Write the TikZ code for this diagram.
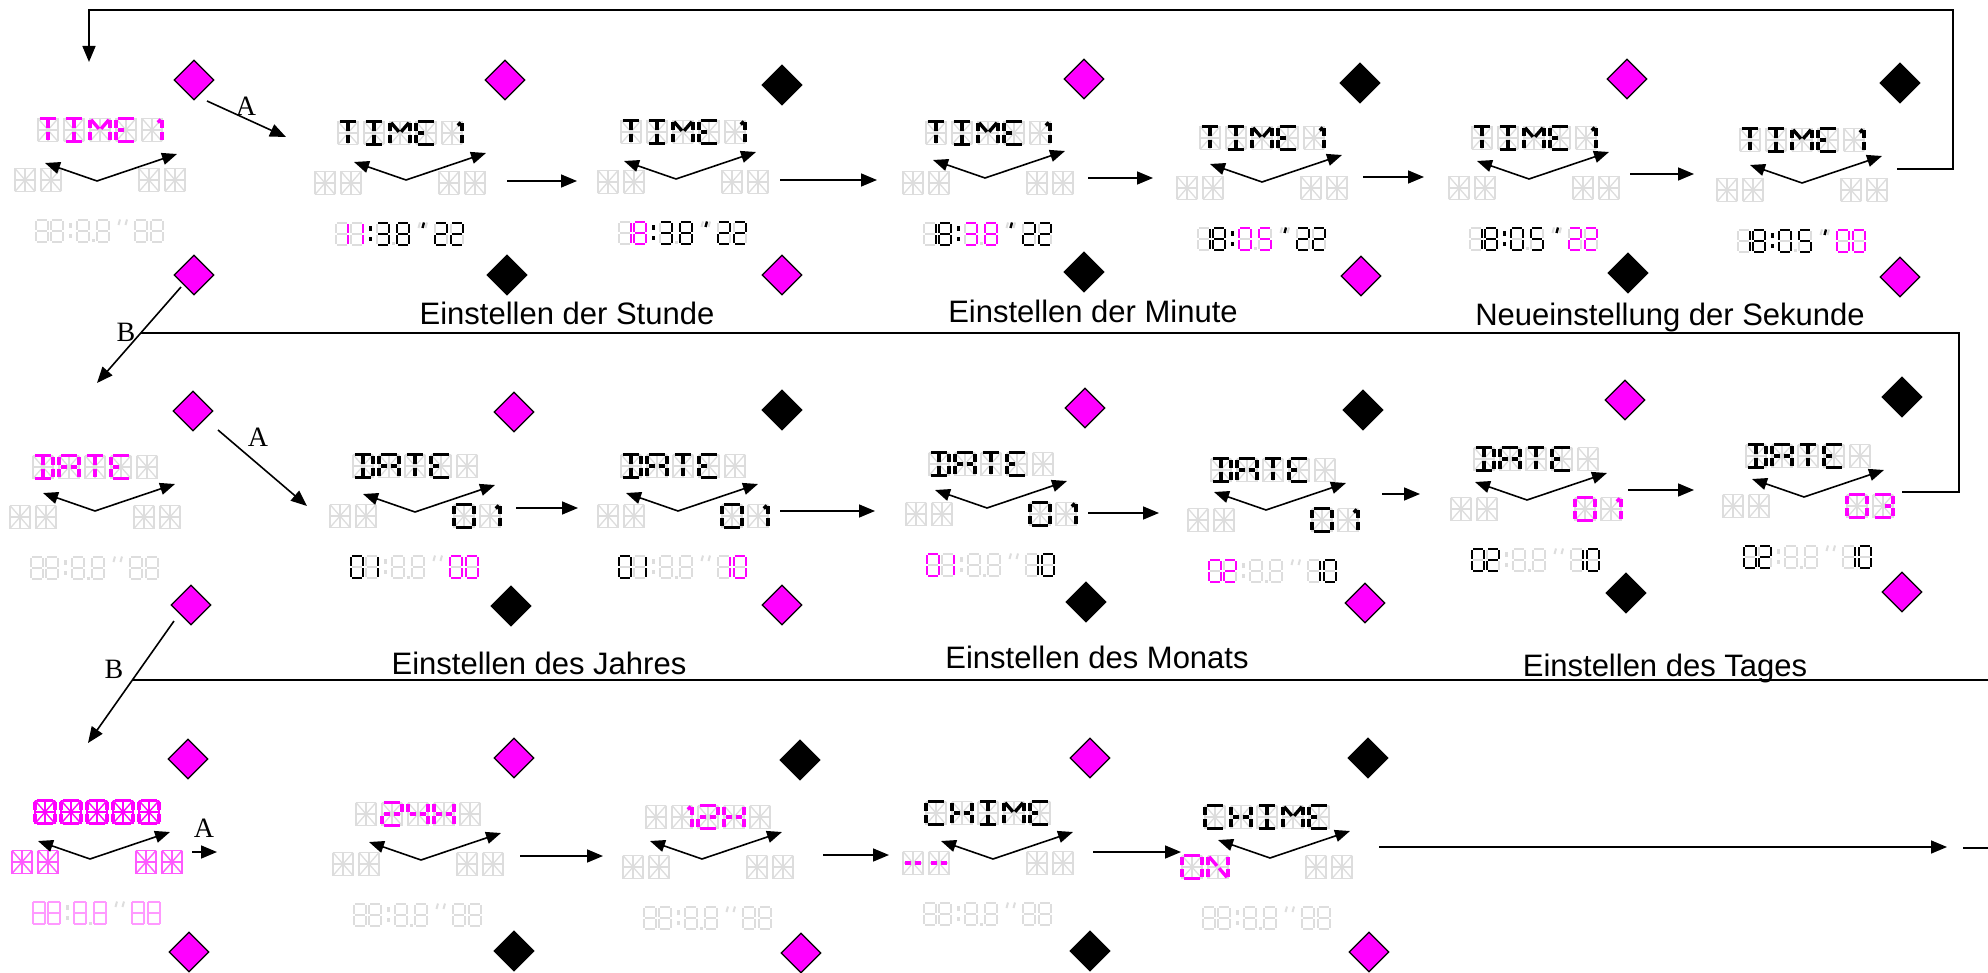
\documentclass[tikz,border=0pt]{standalone}
\usepackage{fontspec}
\setmainfont{Liberation Sans}
\newfontfamily\serifA{Liberation Serif}
\usetikzlibrary{arrows.meta,shapes.geometric}
\definecolor{mag}{HTML}{FF00FF}
\definecolor{ghostc}{HTML}{DDDDDD}
\tikzset{
 ghost/.style={draw=ghostc, line width=1.3pt},
 lit/.style={line width=3.4pt, shorten <=1.6pt, shorten >=1.6pt},
 thinlit/.style={line width=1.3pt},
 dlit/.style={line width=2.8pt, shorten <=1.1pt, shorten >=1.1pt},
 dghost/.style={draw=ghostc, line width=2pt, shorten <=1.2pt, shorten >=1.2pt},
 conn/.style={line width=1.6pt, -{Triangle[length=16pt,width=13pt]}},
 varrow/.style={line width=1.6pt, -{Triangle[length=15pt,width=12pt]}},
 pline/.style={line width=1.6pt},
 dm/.style={diamond, draw=black, line width=1.2pt, minimum width=40pt, minimum height=40pt, inner sep=0pt},
 captxt/.style={font=\fontsize{31}{36}\selectfont, inner sep=0pt, anchor=base},
 lbl/.style={font=\serifA\fontsize{28}{32}\selectfont, inner sep=0pt},
}
% 14-segment cell
\newcommand\defseg[2]{\expandafter\def\csname sg#1\endcsname{#2}}
\defseg{t}{(-10,-11.5)--(10,-11.5)}
\defseg{bo}{(-10,11.5)--(10,11.5)}
\defseg{ul}{(-10,-11.5)--(-10,0)}
\defseg{ll}{(-10,0)--(-10,11.5)}
\defseg{ur}{(10,-11.5)--(10,0)}
\defseg{lr}{(10,0)--(10,11.5)}
\defseg{ml}{(-10,0)--(0,0)}
\defseg{mr}{(0,0)--(10,0)}
\defseg{cu}{(0,-11.5)--(0,0)}
\defseg{cl}{(0,0)--(0,11.5)}
\defseg{dul}{(0,0)--(-10,-11.5)}
\defseg{dur}{(0,0)--(10,-11.5)}
\defseg{dll}{(0,0)--(-10,11.5)}
\defseg{dlr}{(0,0)--(10,11.5)}
\defseg{fl}{(4.5,-6.5)--(10,-11.5)}
% 7-segment digit
\newcommand\defdseg[2]{\expandafter\def\csname sd#1\endcsname{#2}}
\defdseg{a}{(-6,-11)--(6,-11)}
\defdseg{b}{(6,-11)--(6,0)}
\defdseg{c}{(6,0)--(6,11)}
\defdseg{d}{(-6,11)--(6,11)}
\defdseg{e}{(-6,0)--(-6,11)}
\defdseg{f}{(-6,-11)--(-6,0)}
\defdseg{g}{(-6,0)--(6,0)}
% letters
\def\lAll{t,bo,ul,ll,ur,lr,ml,mr,cu,cl,dul,dur,dll,dlr}
\def\lFrame{t,bo,ul,ll,ur,lr}
\def\lT{t,cu,cl}
\def\lI{t,bo,cu,cl}
\def\lM{ul,ll,ur,lr,dul,dur}
\def\lE{t,bo,ul,ll,ml}
\def\lOne{ur,lr,fl}
\def\lD{t,bo,ur,lr,cu,cl}
\def\lA{t,ul,ll,ur,lr,ml,mr}
\def\lC{t,bo,ul,ll}
\def\lH{ul,ll,ur,lr,ml,mr}
\def\lO{t,bo,ul,ll,ur,lr}
\def\lN{ul,ll,ur,lr,dul,dlr}
\def\lTwo{t,ur,ml,mr,ll,bo}
\def\lFour{ul,ur,lr,ml,mr}
\def\lThree{t,ur,lr,bo,mr}
\def\lDash{ml,mr}
% digits
\def\dAll{a,b,c,d,e,f,g}
\def\dZ{a,b,c,d,e,f}
\def\dI{b,c}
\def\dII{a,b,g,e,d}
\def\dIII{a,b,g,c,d}
\def\dV{a,f,g,c,d}
\def\dVIII{a,b,c,d,e,f,g}
% drawing macros
\newcommand\gcell[2]{\begin{scope}[shift={(#1)},shift={(#2,0)}]
  \foreach \s in \lAll {\expandafter\let\expandafter\segp\csname sg\s\endcsname \draw[ghost] \segp;}
 \end{scope}}
\newcommand\lc[4]{\begin{scope}[shift={(#1)},shift={(#2,0)}]
  \foreach \s in #4 {\expandafter\let\expandafter\segp\csname sg\s\endcsname \draw[lit,draw=#3] \segp;}
 \end{scope}}
\newcommand\tc[3]{\begin{scope}[shift={(#1)},shift={(#2,0)}]
  \foreach \s in \lAll {\expandafter\let\expandafter\segp\csname sg\s\endcsname \draw[thinlit,draw=#3] \segp;}
 \end{scope}}
\newcommand\topG[1]{\foreach \k in {-52,-26,0,26,52}{\gcell{#1}{\k}}}
\newcommand\pairG[1]{\gcell{#1}{-13}\gcell{#1}{13}}
\newcommand\botG[1]{\begin{scope}[shift={(#1)}]
  \foreach \k in {-58,-43,-17,3,41,57}{\begin{scope}[shift={(\k,0)}]
    \foreach \s in \dAll {\expandafter\let\expandafter\segp\csname sd\s\endcsname \draw[dghost] \segp;}
   \end{scope}}
  \fill[ghostc] (-31.5,-8) rectangle (-28.5,-3);
  \fill[ghostc] (-31.5,3) rectangle (-28.5,7);
  \fill[ghostc] (-8.5,8.5) rectangle (-5.5,11.5);
  \draw[ghostc,line width=2pt] (20,-11.5) -- (18.5,-6) (27,-11.5) -- (25.5,-6);
 \end{scope}}
\newcommand\ld[4]{\begin{scope}[shift={(#1)},shift={(#2,0)}]
  \foreach \s in #4 {\expandafter\let\expandafter\segp\csname sd\s\endcsname \draw[dlit,draw=#3] \segp;}
 \end{scope}}
\newcommand\td[3]{\begin{scope}[shift={(#1)},shift={(#2,0)}]
  \foreach \s in \dAll {\expandafter\let\expandafter\segp\csname sd\s\endcsname \draw[thinlit,draw=#3] \segp;}
 \end{scope}}
\newcommand\lsep[2]{\begin{scope}[shift={(#1)}]
  \fill[#2] (-31.5,-8) rectangle (-28.5,-3);
  \fill[#2] (-31.5,3) rectangle (-28.5,7);
  \draw[#2,line width=2.4pt] (24,-11.5) -- (22.5,-6);
 \end{scope}}
\newcommand\unit[5]{%
 \coordinate (#1t) at (#2,#3-50);
 \coordinate (#1l) at (#2-62,#3);
 \coordinate (#1r) at (#2+62,#3);
 \coordinate (#1b) at (#2,#3+51);
 \coordinate (#1v) at (#4,#5);
 \topG{#1t}\pairG{#1l}\pairG{#1r}\botG{#1b}}
\newcommand\varr[1]{\draw[varrow] (#1v) -- ++(-52,-18);\draw[varrow] (#1v) -- ++(80,-27);}
\newcommand\timeone[2]{\lc{#1}{-52}{#2}{\lT}\lc{#1}{-26}{#2}{\lI}\lc{#1}{0}{#2}{\lM}\lc{#1}{26}{#2}{\lE}\lc{#1}{52}{#2}{\lOne}}
\newcommand\dateword[2]{\lc{#1}{-52}{#2}{\lD}\lc{#1}{-26}{#2}{\lA}\lc{#1}{0}{#2}{\lT}\lc{#1}{26}{#2}{\lE}}
\newcommand\chime[2]{\lc{#1}{-52}{#2}{\lC}\lc{#1}{-26}{#2}{\lH}\lc{#1}{0}{#2}{\lI}\lc{#1}{26}{#2}{\lM}\lc{#1}{52}{#2}{\lE}}
\newcommand\hms[9]{\ld{#1}{-58}{#2}{#3}\ld{#1}{-43}{#2}{#4}\lsep{#1}{black}\ld{#1}{-17}{#5}{#6}\ld{#1}{3}{#5}{#7}\ld{#1}{41}{#8}{#9}\ld{#1}{57}{#8}{#9}}
\newcommand\dmy[7]{\ld{#1}{-58}{#2}{#3}\ld{#1}{-43}{#2}{#4}\ld{#1}{41}{#5}{#6}\ld{#1}{57}{#5}{#7}}
\begin{document}
\begin{tikzpicture}[x=1pt,y=-1pt]
\useasboundingbox (0,0) rectangle (1988,973);
\fill[white] (0,0) rectangle (1988,973);

% ---------------- Row 1 ----------------
\unit{ra}{100}{180}{97}{181}
\timeone{rat}{mag}
\varr{ra}
\unit{rb}{400}{183}{406}{180}
\timeone{rbt}{black}
\hms{rbb}{mag}{\dI}{\dI}{black}{\dIII}{\dVIII}{black}{\dII}
\varr{rb}
\unit{rc}{683}{182}{676}{179}
\timeone{rct}{black}
\hms{rcb}{mag}{\dI}{\dVIII}{black}{\dIII}{\dVIII}{black}{\dII}
\varr{rc}
\unit{rd}{988}{183}{985}{178}
\timeone{rdt}{black}
\hms{rdb}{black}{\dI}{\dVIII}{mag}{\dIII}{\dVIII}{black}{\dII}
\varr{rd}
\unit{re}{1262}{188}{1262}{182}
\timeone{ret}{black}
\hms{reb}{black}{\dI}{\dVIII}{mag}{\dZ}{\dV}{black}{\dII}
\varr{re}
\unit{rf}{1534}{188}{1529}{179}
\timeone{rft}{black}
\hms{rfb}{black}{\dI}{\dVIII}{black}{\dZ}{\dV}{mag}{\dII}
\varr{rf}
\unit{rg}{1802}{190}{1802}{183}
\timeone{rgt}{black}
\hms{rgb}{black}{\dI}{\dVIII}{black}{\dZ}{\dV}{mag}{\dZ}
\varr{rg}

% ---------------- Row 2 ----------------
\unit{sa}{95}{517}{95}{511}
\dateword{sat}{mag}
\varr{sa}
\unit{sb}{415}{516}{415}{512}
\dateword{sbt}{black}
\lc{sbr}{-13}{black}{\lO}\lc{sbr}{13}{black}{\lOne}
\dmy{sbb}{black}{\dZ}{\dI}{mag}{\dZ}{\dZ}
\varr{sb}
\unit{sc}{683}{516}{678}{511}
\dateword{sct}{black}
\lc{scr}{-13}{black}{\lO}\lc{scr}{13}{black}{\lOne}
\dmy{scb}{black}{\dZ}{\dI}{mag}{\dI}{\dZ}
\varr{sc}
\unit{sd}{991}{514}{987}{508}
\dateword{sdt}{black}
\lc{sdr}{-13}{black}{\lO}\lc{sdr}{13}{black}{\lOne}
\dmy{sdb}{mag}{\dZ}{\dI}{black}{\dI}{\dZ}
\varr{sd}
\unit{se}{1273}{520}{1266}{510}
\dateword{set}{black}
\lc{ser}{-13}{black}{\lO}\lc{ser}{13}{black}{\lOne}
\dmy{seb}{mag}{\dZ}{\dII}{black}{\dI}{\dZ}
\varr{se}
\unit{sf}{1536}{509}{1527}{500}
\dateword{sft}{black}
\lc{sfr}{-13}{mag}{\lO}\lc{sfr}{13}{mag}{\lOne}
\dmy{sfb}{black}{\dZ}{\dII}{black}{\dI}{\dZ}
\varr{sf}
\unit{sg}{1808}{506}{1804}{497}
\dateword{sgt}{black}
\lc{sgr}{-13}{mag}{\lO}\lc{sgr}{13}{mag}{\lThree}
\dmy{sgb}{black}{\dZ}{\dII}{black}{\dI}{\dZ}
\varr{sg}

% ---------------- Row 3 ----------------
\unit{ta}{97}{862}{90}{859}
\foreach \k in {-52,-26,0,26,52}{\tc{tat}{\k}{mag}\lc{tat}{\k}{mag}{\lFrame}}
\tc{tal}{-13}{mag!65}\tc{tal}{13}{mag!65}\tc{tar}{-13}{mag!65}\tc{tar}{13}{mag!65}
\foreach \k in {-58,-43,-17,3,41,57}{\td{tab}{\k}{mag!40}}
\varr{ta}
\unit{tb}{418}{864}{421}{860}
\lc{tbt}{-26}{mag}{\lTwo}\lc{tbt}{0}{mag}{\lFour}\lc{tbt}{26}{mag}{\lH}
\varr{tb}
\unit{tc}{708}{867}{702}{859}
\lc{tct}{-26}{mag}{\lOne}\lc{tct}{0}{mag}{\lTwo}\lc{tct}{26}{mag}{\lH}
\varr{tc}
\unit{td}{988}{863}{993}{859}
\chime{tdt}{black}
\lc{tdl}{-13}{mag}{\lDash}\lc{tdl}{13}{mag}{\lDash}
\varr{td}
\unit{te}{1267}{867}{1270}{858}
\chime{tet}{black}
\lc{tel}{-13}{mag}{\lO}\lc{tel}{13}{mag}{\lN}
\varr{te}

% ---------------- Diamonds ----------------
\node[dm,fill=mag]   (d1) at (194,80) {};
\node[dm,fill=mag]   (d2) at (194,275) {};
\node[dm,fill=mag]   (d3) at (505,80) {};
\node[dm,fill=black] (d4) at (507,275) {};
\node[dm,fill=black] (d5) at (782,85) {};
\node[dm,fill=mag]   (d6) at (782,275) {};
\node[dm,fill=mag]   (d7) at (1084,79) {};
\node[dm,fill=black] (d8) at (1084,272) {};
\node[dm,fill=black] (d9) at (1360,83) {};
\node[dm,fill=mag]   (d10) at (1361,276) {};
\node[dm,fill=mag]   (d11) at (1627,79) {};
\node[dm,fill=black] (d12) at (1628,273) {};
\node[dm,fill=black] (d13) at (1900,83) {};
\node[dm,fill=mag]   (d14) at (1900,277) {};
\node[dm,fill=mag]   (e1) at (193,411) {};
\node[dm,fill=mag]   (e2) at (191,605) {};
\node[dm,fill=mag]   (e3) at (514,412) {};
\node[dm,fill=black] (e4) at (511,606) {};
\node[dm,fill=black] (e5) at (782,410) {};
\node[dm,fill=mag]   (e6) at (782,605) {};
\node[dm,fill=mag]   (e7) at (1085,408) {};
\node[dm,fill=black] (e8) at (1086,602) {};
\node[dm,fill=black] (e9) at (1363,410) {};
\node[dm,fill=mag]   (e10) at (1365,603) {};
\node[dm,fill=mag]   (e11) at (1625,400) {};
\node[dm,fill=black] (e12) at (1626,593) {};
\node[dm,fill=black] (e13) at (1902,397) {};
\node[dm,fill=mag]   (e14) at (1902,592) {};
\node[dm,fill=mag]   (f1) at (188,759) {};
\node[dm,fill=mag]   (f2) at (189,952) {};
\node[dm,fill=mag]   (f3) at (514,758) {};
\node[dm,fill=black] (f4) at (514,951) {};
\node[dm,fill=black] (f5) at (800,760) {};
\node[dm,fill=mag]   (f6) at (801,953) {};
\node[dm,fill=mag]   (f7) at (1090,758) {};
\node[dm,fill=black] (f8) at (1090,951) {};
\node[dm,fill=black] (f9) at (1368,758) {};
\node[dm,fill=mag]   (f10) at (1369,952) {};

% ---------------- Connectors ----------------
% row 1
\coordinate (a1s) at (207,101); \coordinate (a1e) at (286,137);
\draw[conn] (a1s) -- (a1e);
\node[lbl] (la1) at (246,106) {A};
\coordinate (p12s) at (507,181); \coordinate (p12e) at (577,181);
\coordinate (p23s) at (780,180); \coordinate (p23e) at (877,180);
\coordinate (p34s) at (1088,178); \coordinate (p34e) at (1153,178);
\coordinate (p45s) at (1363,177); \coordinate (p45e) at (1424,177);
\coordinate (p56s) at (1630,174); \coordinate (p56e) at (1694,174);
\draw[conn] (p12s) -- (p12e);
\draw[conn] (p23s) -- (p23e);
\draw[conn] (p34s) -- (p34e);
\draw[conn] (p45s) -- (p45e);
\draw[conn] (p56s) -- (p56e);
\coordinate (ret1s) at (1897,169); \coordinate (ret1c1) at (1953,169);
\coordinate (ret1c2) at (1953,10); \coordinate (ret1c3) at (89,10); \coordinate (ret1e) at (89,62);
\draw[conn] (ret1s) -- (ret1c1) -- (ret1c2) -- (ret1c3) -- (ret1e);
% B 1
\coordinate (b1s) at (181,287); \coordinate (b1e) at (97,383);
\draw[conn] (b1s) -- (b1e);
\node[lbl] (lb1) at (126,332) {B};
% row 2
\coordinate (a2s) at (218,430); \coordinate (a2e) at (307,506);
\draw[conn] (a2s) -- (a2e);
\node[lbl] (la2) at (258,437) {A};
\coordinate (q12s) at (516,508); \coordinate (q12e) at (578,508);
\coordinate (q23s) at (780,511); \coordinate (q23e) at (875,511);
\coordinate (q34s) at (1088,513); \coordinate (q34e) at (1159,513);
\coordinate (q45s) at (1382,494); \coordinate (q45e) at (1420,494);
\coordinate (q56s) at (1628,490); \coordinate (q56e) at (1694,490);
\draw[conn] (q12s) -- (q12e);
\draw[conn] (q23s) -- (q23e);
\draw[conn] (q34s) -- (q34e);
\draw[conn] (q45s) -- (q45e);
\draw[conn] (q56s) -- (q56e);
\coordinate (ret2s) at (1902,492); \coordinate (ret2c1) at (1959,492);
\coordinate (ret2c2) at (1959,333); \coordinate (ret2e) at (141,333);
\draw[pline] (ret2s) -- (ret2c1) -- (ret2c2) -- (ret2e);
% B 2
\coordinate (b2s) at (174,621); \coordinate (b2e) at (88,743);
\draw[conn] (b2s) -- (b2e);
\node[lbl] (lb2) at (114,669) {B};
\coordinate (ret3s) at (1988,680); \coordinate (ret3e) at (132,680);
\draw[pline] (ret3s) -- (ret3e);
% row 3
\coordinate (a3s) at (192,852); \coordinate (a3e) at (217,852);
\draw[conn] (a3s) -- (a3e);
\node[lbl] (la3) at (204,828) {A};
\coordinate (w12s) at (520,856); \coordinate (w12e) at (603,856);
\coordinate (w23s) at (823,855); \coordinate (w23e) at (889,855);
\coordinate (w34s) at (1093,852); \coordinate (w34e) at (1181,852);
\coordinate (w45s) at (1379,847); \coordinate (w45e) at (1947,847);
\draw[conn] (w12s) -- (w12e);
\draw[conn] (w23s) -- (w23e);
\draw[conn] (w34s) -- (w34e);
\draw[conn] (w45s) -- (w45e);
\coordinate (w5s) at (1963,848); \coordinate (w5e) at (1988,848);
\draw[pline] (w5s) -- (w5e);

% ---------------- Captions ----------------
\node[captxt] (c1) at (567,325) {Einstellen der Stunde};
\node[captxt] (c2) at (1093,323) {Einstellen der Minute};
\node[captxt] (c3) at (1670,326) {Neueinstellung der Sekunde};
\node[captxt] (c4) at (539,674) {Einstellen des Jahres};
\node[captxt] (c5) at (1097,668) {Einstellen des Monats};
\node[captxt] (c6) at (1665,676) {Einstellen des Tages};
\end{tikzpicture}
\end{document}
